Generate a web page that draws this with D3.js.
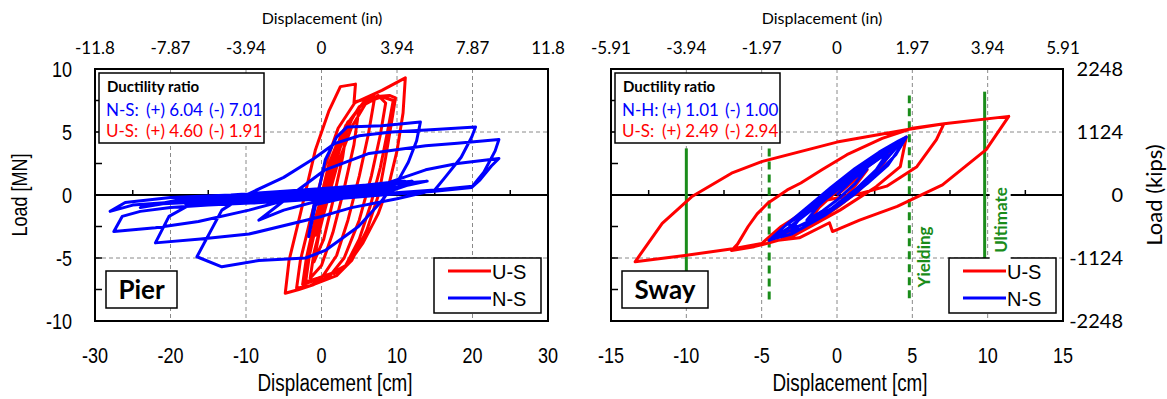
<!DOCTYPE html>
<html>
<head>
<meta charset="utf-8">
<script src="https://cdn.jsdelivr.net/npm/d3@7"></script>
<style>
  body { margin: 0; background: #fff; }
</style>
</head>
<body>
<div id="chart"></div>
<script>
// ---- data ----
const pierTicksCm = [-30, -20, -10, 0, 10, 20, 30];
const pierTicksIn = ["-11.8", "-7.87", "-3.94", "0", "3.94", "7.87", "11.8"];
const swayTicksCm = [-15, -10, -5, 0, 5, 10, 15];
const swayTicksIn = ["-5.91", "-3.94", "-1.97", "0", "1.97", "3.94", "5.91"];
const loadTicksMN = [-10, -5, 0, 5, 10];
const loadTicksKips = ["-2248", "-1124", "0", "1124", "2248"];
const seriesNames = ["U-S", "N-S"];

const pierDuctility = [["N-S:", "(+) 6.04", "(-) 7.01"], ["U-S:", "(+) 4.60", "(-) 1.91"]];
const swayDuctility = [["N-H:", "(+) 1.01", "(-) 1.00"], ["U-S:", "(+) 2.49", "(-) 2.94"]];

// [displacement cm, load MN]
const pierUS = [[0,0],[1,2.5],[2,4],[1.2,1.2],[0.2,-1.5],[-0.8,-3.2],[0,-1],[1.2,2.2],[2.5,4.6],[3.5,5.8],[2.8,3],[1.5,-0.5],[0.3,-3.5],[-1,-5.3],[-0.3,-3],[1,0.8],[2.5,3.8],[4,6],[5,7],[4.3,4],[3,0.5],[1.5,-3],[0,-5.6],[-1.5,-6.6],[-1,-4.6],[0.3,-1.5],[2,2.2],[4,5.4],[5.8,7.2],[7,7.6],[6.2,4.8],[5,1.5],[3.5,-2],[2,-4.8],[0,-6.6],[-2.5,-7.1],[-2,-5],[-0.8,-1.8],[1,1.8],[3,5],[5,7],[7.5,7.9],[8.5,7.3],[7.8,4.8],[6.6,1.5],[5,-2],[3,-5],[1,-6.5],[-1.5,-7.2],[-3.3,-7.4],[-2.8,-5.2],[-1.5,-2],[0.3,2],[2.2,5.3],[4.5,7.4],[7,7.8],[9,7.9],[9.8,7.7],[9.2,5.5],[8.5,3],[7.6,0.1],[6,-2.8],[4,-5.2],[2,-6.4],[-1,-7.1],[-3,-7.5],[-4.8,-7.8],[-4.3,-5.2],[-2.8,-1.5],[-0.8,3.6],[1,6.7],[2.5,8.6],[4.5,8.8],[4.3,7.3],[8,8.3],[11.1,9.3],[10.8,6.5],[10,3.5],[9,1],[7.5,-1.5],[5.5,-3.8],[3.5,-5.5],[1.4,-6.2],[-0.5,-6.6],[-2.1,-6.9],[-1.6,-4.8],[-0.5,-1.8],[1.2,2.2],[3.2,5.5],[5.5,7.3],[8,7.8],[9.5,7.5],[8.8,5.2],[7.8,2.2],[6.5,-0.8],[5,-3.5],[3.2,-5.6],[1.5,-6.3]];

const pierNS = [[0,0],[3,0.5],[6,0.8],[9,1.0],[11,1.1],[8,0.5],[4,0.1],[0,-0.2],[-4,-0.4],[-8,-0.5],[-11,-0.6],[-8,-0.2],[-4,0.1],[0,0.3],[4,0.6],[8,0.8],[12,1.0],[9,0.4],[5,0.1],[0,-0.3],[-5,-0.5],[-10,-0.6],[-15,-0.6],[-18,-0.7],[-14,-0.3],[-9,0],[-4,0.2],[0,0.4],[5,0.7],[10,0.9],[12.5,1.0],[9,0.3],[4,-0.1],[-1,-0.8],[-1.7,-3.3],[-0.5,0],[0.5,2.8],[2,4.6],[3.4,5.4],[8,5.5],[13.1,5.8],[12.6,4.3],[11.5,2.6],[10.2,1.2],[7.5,-0.8],[4.9,-2.5],[0.5,-4.4],[-2.1,-5.0],[-8.3,-5.2],[-13.2,-5.7],[-16.5,-4.9],[-13.2,-1.2],[-10,0],[-5,1.4],[-1,2.9],[1.8,4.1],[5,4.7],[9.3,5.0],[15,5.2],[20.4,5.4],[19.9,4.6],[18.5,3.0],[16.5,1.5],[15,0.4],[10,-0.3],[4,-1.0],[0,-1.7],[-9.6,-3.1],[-16,-3.5],[-22,-3.8],[-20.2,-1.7],[-16.3,-0.4],[-10,-0.2],[-4,0.1],[2,0.5],[8,0.8],[13.8,2.0],[18,2.5],[23.5,2.9],[22.5,2.3],[21,1.2],[19.9,0.6],[15,0.3],[8,0],[0,-0.4],[-5,-1.2],[-8.3,-2.0],[-4,0],[0.5,2.0],[6.3,3.3],[13.8,3.9],[18,4.1],[23.5,4.4],[23,3.5],[21.5,1.8],[20,0.7],[15,0.4],[8,0.1],[0,-0.3],[-8,-0.6],[-15,-0.8],[-20,-1.0],[-24,-1.3],[-26.4,-1.7],[-27.5,-2.9],[-22,-2.6],[-16.3,-2.1],[-9.6,-1.2],[-4,-0.3],[0,0.3],[6,0.7],[12,1.0],[14,1.1],[10,0.6],[4,0.2],[-3,-0.2],[-10,-0.4],[-18,-0.5],[-25,-0.8],[-28,-1.3],[-26,-0.6],[-20,-0.2],[-12,0],[-5,0.3],[2,0.6],[8,0.9],[12,1.1],[7,0.5],[0,0.1],[-7,-0.3],[-14,-0.5],[-21,-0.7],[-24,-1.0],[-19,-0.4],[-11,-0.1],[-3,0.2],[4,0.5],[10,0.8]];

const swayUS = [[0,0],[1,1],[2,2],[1,0.4],[0,-0.8],[-1,-1.7],[-2,-2.4],[-1.2,-1],[0,0.3],[1.5,1.8],[3,3.1],[3.8,3.8],[2.8,2],[1.5,0.4],[0,-1],[-1.5,-2.2],[-3,-3],[-3.5,-3.4],[-2.5,-1.8],[-1,-0.3],[0.5,1.3],[2,2.6],[3.5,3.7],[4.6,4.6],[4.2,2.25],[2.6,0.66],[0.2,-1.2],[-1.75,-2.5],[-3,-3.3],[-4.5,-3.8],[-5.5,-4.1],[-7,-4.4],[-6.6,-3.9],[-5.9,-2.5],[-5.3,-1.5],[-4.6,-0.66],[-3.3,0.4],[-2.4,0.95],[-1,2],[0.66,3.2],[3,4.5],[5,5.3],[7.1,5.66],[6.6,4.4],[5.3,2.25],[3.3,0.7],[1.5,0.1],[-0.66,-0.4],[-2.4,-1.5],[-3.7,-2.5],[-5,-3.85],[-6.8,-4.25],[-10.1,-4.8],[-13.4,-5.3],[-11.6,-2.25],[-9.65,-0.14],[-7,1.73],[-5,2.65],[0,4.2],[4.6,5.18],[7.1,5.66],[11.4,6.24],[9.9,3.6],[7,0.8],[4,-0.9],[1.5,-2.0],[-0.3,-2.9],[-0.5,-2.2],[-2.5,-3.4],[-4.6,-3.7]];

const swayNS = [[0,0],[1,1.2],[2,2.1],[1.2,0.9],[0,-0.4],[-1,-1.3],[-2,-2],[-1.2,-0.8],[0,0.5],[1.5,1.9],[2.8,3],[3.5,3.6],[2.6,2],[1.2,0.4],[-0.4,-1.1],[-2,-2.2],[-3,-2.7],[-2.2,-1.4],[-0.8,0],[0.8,1.5],[2.4,2.9],[3.8,3.9],[4.6,4.6],[3.9,3.2],[2.6,1.6],[1.2,0.1],[-0.8,-1.6],[-2.4,-2.7],[-3.3,-2.9],[-4.5,-3.6],[-3.4,-2.4],[-2,-1],[-0.4,0.6],[1.2,2.1],[2.8,3.4],[4.1,4.3],[4.6,4.6],[4.2,3.8],[3.4,2.4],[2,0.9],[0.4,-0.6],[-1.4,-2],[-3,-3.1],[-4.3,-3.5],[-3.2,-2.6],[-1.8,-1.3],[-0.2,0.2],[1.4,1.7],[2.8,2.9],[4.2,4.1],[3.6,3.3],[2.2,1.4],[0.8,-0.2],[-1,-1.6],[-2.6,-2.5],[-3.3,-2.3],[-2.4,-1.6],[-1,-0.3],[0.5,1.0],[2,2.3],[3.2,3.2]];

// limit lines in the sway panel: [displacement cm, load from, load to, dashed]
const swayLimits = [[-10, -8.4, 3.7, false], [-4.5, -8.3, 3.7, true], [4.8, -8.2, 7.9, true], [9.8, -5.2, 8.2, false]];

// ---- drawing ----
const W = 1167, H = 399;
const arial = "'Liberation Sans', Arial, sans-serif";
const calib = "Lato, 'Open Sans', sans-serif";
const squeeze = 0.82; // Arial Narrow look from Liberation Sans
const colors = ["#ff0000", "#0000ff"];
const green = "#1a8c1a";
const plotTop = 69, plotBottom = 321;

const svg = d3.select("#chart").append("svg")
    .attr("width", W)
    .attr("height", H);

const y = d3.scaleLinear().domain([-10, 10]).range([plotBottom, plotTop]);

// narrow text placed by a transform
function narrowText(sel, fx, fy, size, rot) {
    return sel.append("text")
        .attr("transform", (d, i) => `translate(${fx(d, i)},${fy(d, i)})${rot ? " rotate(-90)" : ""} scale(${squeeze},1)`)
        .style("font", `${size}px ${arial}`);
}

function drawPanel(opt) {
    const x = d3.scaleLinear().domain(d3.extent(opt.ticks)).range([opt.left, opt.right]);
    const g = svg.append("g");
    const id = "clip" + opt.name;

    g.append("clipPath").attr("id", id)
        .append("rect")
        .attr("x", opt.left).attr("y", plotTop)
        .attr("width", opt.right - opt.left).attr("height", plotBottom - plotTop);

    // dashed grid
    g.selectAll(".gx")
        .data(opt.ticks.slice(1, -1))
        .join("line")
        .attr("x1", d => x(d)).attr("x2", d => x(d))
        .attr("y1", plotTop).attr("y2", plotBottom)
        .attr("stroke", "#8a8a8a").attr("stroke-dasharray", "4,3");
    g.selectAll(".gy")
        .data([-5, 5])
        .join("line")
        .attr("x1", opt.left).attr("x2", opt.right)
        .attr("y1", d => y(d)).attr("y2", d => y(d))
        .attr("stroke", "#8a8a8a").attr("stroke-dasharray", "4,3");

    // zero line and its minor ticks
    g.append("line")
        .attr("x1", opt.left).attr("x2", opt.right)
        .attr("y1", y(0)).attr("y2", y(0))
        .attr("stroke", "#000").attr("stroke-width", 2);
    const step = opt.ticks[1] - opt.ticks[0];
    g.selectAll(".mt")
        .data(opt.ticks.slice(0, -1).map(t => t + step / 2))
        .join("line")
        .attr("x1", d => x(d)).attr("x2", d => x(d))
        .attr("y1", y(0)).attr("y2", y(0) - 5)
        .attr("stroke", "#000").attr("stroke-width", 1.5);

    // left frame inner ticks
    g.selectAll(".lt")
        .data(d3.range(-7.5, 7.6, 2.5))
        .join("line")
        .attr("x1", opt.left).attr("x2", opt.left + 7)
        .attr("y1", d => y(d)).attr("y2", d => y(d))
        .attr("stroke", "#000").attr("stroke-width", 1.5);

    // limit lines
    if (opt.limits) {
        g.selectAll(".lim")
            .data(opt.limits)
            .join("line")
            .attr("x1", d => x(d[0])).attr("x2", d => x(d[0]))
            .attr("y1", d => y(d[1])).attr("y2", d => y(d[2]))
            .attr("stroke", green).attr("stroke-width", 3)
            .attr("stroke-dasharray", d => d[3] ? "8,5" : null);
    }

    // hysteresis curves
    const line = d3.line().x(d => x(d[0])).y(d => y(d[1]));
    g.append("g").attr("clip-path", `url(#${id})`)
        .selectAll("path")
        .data(opt.series)
        .join("path")
        .attr("d", line)
        .attr("fill", "none")
        .attr("stroke", (d, i) => colors[i])
        .attr("stroke-width", 3)
        .attr("stroke-linejoin", "round");

    // frame
    g.append("rect")
        .attr("x", opt.left).attr("y", plotTop)
        .attr("width", opt.right - opt.left).attr("height", plotBottom - plotTop)
        .attr("fill", "none").attr("stroke", "#000").attr("stroke-width", 2);

    // bottom tick labels
    const bl = g.selectAll(".bl").data(opt.ticks).join("g");
    narrowText(bl, d => x(d), () => 363, 22)
        .attr("text-anchor", "middle")
        .text(d => d);
    narrowText(g, () => opt.xTitle, () => 391, 23)
        .attr("text-anchor", "middle")
        .text("Displacement [cm]");

    // top axis (inches)
    g.selectAll(".tl")
        .data(opt.ticks)
        .join("text")
        .attr("x", d => x(d)).attr("y", 54)
        .attr("text-anchor", "middle")
        .style("font", `17px ${calib}`)
        .text((d, i) => opt.inLabels[i]);
    g.append("text")
        .attr("x", opt.topTitle).attr("y", 24)
        .attr("text-anchor", "middle")
        .style("font", `16px ${calib}`)
        .text("Displacement (in)");

    // ductility box
    const bx = opt.left + 4, by = 73;
    g.append("rect")
        .attr("x", bx).attr("y", by).attr("width", 165).attr("height", 70)
        .attr("fill", "#fff").attr("stroke", "#000").attr("stroke-width", 1.5);
    g.append("text")
        .attr("x", bx + 8).attr("y", by + 19)
        .style("font", `bold 15px ${calib}`)
        .text("Ductility ratio");
    const rows = g.selectAll(".dr")
        .data(opt.ductility)
        .join("g")
        .attr("fill", (d, i) => colors[1 - i]);
    [0, 40, 103].forEach((dx, k) => {
        rows.append("text")
            .attr("x", bx + 7 + dx)
            .attr("y", (d, i) => by + 43 + i * 21)
            .style("font", `17px ${calib}`)
            .text(d => d[k]);
    });

    // name box
    g.append("rect")
        .attr("x", opt.left + 11).attr("y", 271)
        .attr("width", opt.nameW).attr("height", 37)
        .attr("fill", "#fff").attr("stroke", "#000").attr("stroke-width", 1.5);
    g.append("text")
        .attr("x", opt.left + 11 + opt.nameW / 2).attr("y", 299)
        .attr("text-anchor", "middle")
        .style("font", `bold 26px ${calib}`)
        .text(opt.name);

    // legend
    const lx = opt.right - 114, ly = 258;
    g.append("rect")
        .attr("x", lx).attr("y", ly).attr("width", 107).attr("height", 55)
        .attr("fill", "#fff").attr("stroke", "#000").attr("stroke-width", 1.5);
    const items = g.selectAll(".lg")
        .data(seriesNames)
        .join("g")
        .attr("transform", (d, i) => `translate(${lx},${ly + 13 + i * 27})`);
    items.append("line")
        .attr("x1", 14).attr("x2", 57)
        .attr("stroke", (d, i) => colors[i]).attr("stroke-width", 3);
    items.append("text")
        .attr("x", 58).attr("y", 7.5)
        .style("font", `20px ${arial}`)
        .text(d => d);

    return x;
}

// Pier panel
drawPanel({
    name: "Pier", nameW: 71, left: 95, right: 548,
    ticks: pierTicksCm, inLabels: pierTicksIn,
    xTitle: 335, topTitle: 322,
    ductility: pierDuctility, series: [pierUS, pierNS]
});

// left load axis
const yl = svg.selectAll(".yl").data(loadTicksMN).join("g");
narrowText(yl, () => 72, d => y(d) + 8, 22)
    .attr("text-anchor", "end")
    .text(d => d);
narrowText(svg, () => 27, () => y(0), 22, true)
    .attr("text-anchor", "middle")
    .text("Load [MN]");

// Sway panel
const xs = drawPanel({
    name: "Sway", nameW: 86, left: 611, right: 1063,
    ticks: swayTicksCm, inLabels: swayTicksIn,
    xTitle: 850, topTitle: 822,
    ductility: swayDuctility, series: [swayUS, swayNS],
    limits: swayLimits
});

// limit annotations
svg.append("rect")
    .attr("x", xs(9.8) + 5).attr("y", 183).attr("width", 21).attr("height", 76)
    .attr("fill", "#fff");
svg.append("text")
    .attr("transform", `translate(${xs(9.8) + 16},220) rotate(-90)`)
    .attr("text-anchor", "middle").attr("dominant-baseline", "central")
    .attr("fill", green)
    .style("font", `bold 17px ${calib}`)
    .text("Ultimate");
svg.append("text")
    .attr("transform", `translate(${xs(4.8) + 14},257) rotate(-90)`)
    .attr("text-anchor", "middle").attr("dominant-baseline", "central")
    .attr("fill", green)
    .style("font", `bold 17px ${calib}`)
    .text("Yielding");

// right load axis (kips)
svg.selectAll(".yr")
    .data(loadTicksMN)
    .join("text")
    .attr("x", 1123).attr("y", d => y(d) + 7)
    .attr("text-anchor", "end")
    .style("font", `20px ${calib}`)
    .text((d, i) => loadTicksKips[i]);
svg.append("text")
    .attr("transform", `translate(1153,${y(0)}) rotate(-90)`)
    .attr("text-anchor", "middle").attr("dominant-baseline", "central")
    .style("font", `22px ${calib}`)
    .text("Load (kips)");
</script>
</body>
</html>
